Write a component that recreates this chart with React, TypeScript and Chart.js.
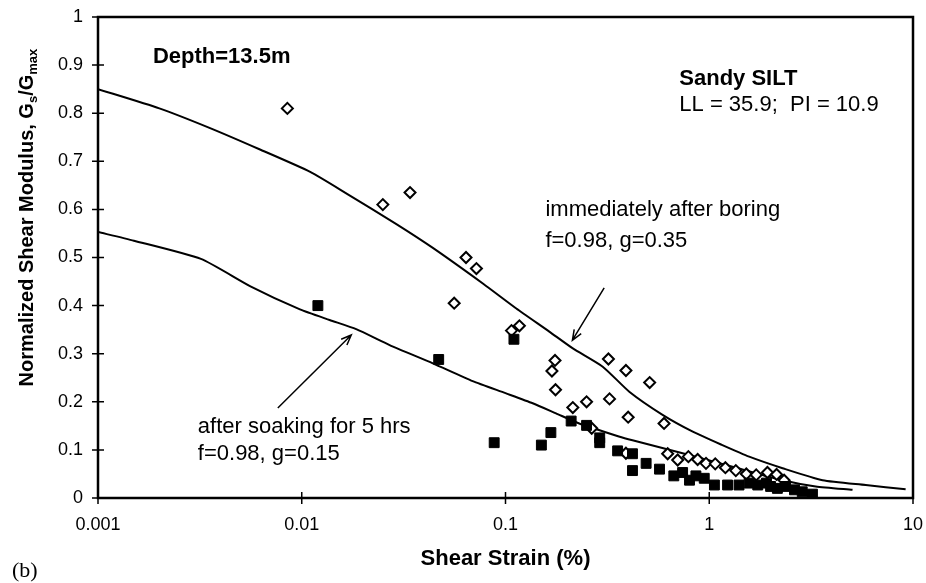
import React, { useEffect, useRef } from "react";
import { Chart, registerables } from "chart.js";

Chart.register(...registerables);

// ---- tick values and labels ----
const xTicks = [0.001, 0.01, 0.1, 1, 10];
const xTickLabels = ["0.001", "0.01", "0.1", "1", "10"];
const yTicks = [0, 0.1, 0.2, 0.3, 0.4, 0.5, 0.6, 0.7, 0.8, 0.9, 1];
const yTickLabels = ["0", "0.1", "0.2", "0.3", "0.4", "0.5", "0.6", "0.7", "0.8", "0.9", "1"];

// ---- measured data: immediately after boring (open diamonds) ----
const boringStrain = [
  0.0085, 0.025, 0.034, 0.056, 0.064, 0.072, 0.107, 0.117, 0.169, 0.175, 0.176, 0.214,
  0.25, 0.265, 0.32, 0.324, 0.39, 0.40, 0.39, 0.51, 0.60, 0.625, 0.70, 0.79, 0.877,
  0.964, 1.07, 1.2, 1.35, 1.52, 1.7, 1.93, 2.14, 2.33,
];
const boringModulus = [
  0.81, 0.61, 0.635, 0.405, 0.5, 0.477, 0.348, 0.358, 0.264, 0.286, 0.225, 0.188,
  0.2, 0.145, 0.289, 0.206, 0.265, 0.168, 0.093, 0.24, 0.155, 0.092, 0.079, 0.086, 0.08,
  0.072, 0.071, 0.063, 0.057, 0.05, 0.048, 0.053, 0.049, 0.037,
];

// ---- measured data: after soaking for 5 hrs (filled squares) ----
const soakedStrain = [
  0.012, 0.047, 0.088, 0.11, 0.15, 0.167, 0.21, 0.25, 0.29, 0.29, 0.355, 0.42, 0.42,
  0.49, 0.57, 0.67, 0.74, 0.8, 0.86, 0.945, 1.06, 1.23, 1.4, 1.57, 1.73, 1.91, 2.0,
  2.16, 2.37, 2.62, 2.86, 3.21,
];
const soakedModulus = [
  0.4, 0.288, 0.115, 0.33, 0.11, 0.136, 0.16, 0.151, 0.125, 0.115, 0.098, 0.092, 0.057,
  0.072, 0.06, 0.046, 0.053, 0.037, 0.046, 0.041, 0.027, 0.027, 0.027, 0.031, 0.027, 0.031, 0.024,
  0.02, 0.024, 0.017, 0.013, 0.008,
];

// ---- fitted curves ----
const boringFitStrain = [
  0.001, 0.002, 0.0035, 0.0062, 0.011, 0.0166, 0.029, 0.044, 0.078, 0.113, 0.164, 0.214,
  0.3, 0.405, 0.59, 0.83, 1.16, 1.57, 2.29, 3.6, 5.86, 9.2,
];
const boringFitModulus = [
  0.85, 0.81, 0.77, 0.725, 0.678, 0.633, 0.57, 0.52, 0.445, 0.394, 0.346, 0.311,
  0.273, 0.221, 0.173, 0.138, 0.11, 0.086, 0.062, 0.037, 0.027, 0.018,
];
const soakedFitStrain = [
  0.001, 0.0015, 0.0032, 0.0056, 0.0098, 0.0137, 0.0185, 0.027, 0.044, 0.069, 0.1,
  0.136, 0.177, 0.23, 0.36, 0.42, 0.74, 1.3, 2.29, 3.33, 5.05,
];
const soakedFitModulus = [
  0.553, 0.535, 0.497, 0.44, 0.392, 0.37, 0.351, 0.318, 0.28, 0.243, 0.218,
  0.197, 0.176, 0.155, 0.128, 0.12, 0.093, 0.065, 0.037, 0.024, 0.017,
];

// ---- annotations (data coordinates: strain, modulus) ----
const noteTexts = [
  "Depth=13.5m",
  "Sandy SILT",
  "LL = 35.9;  PI = 10.9",
  "immediately after boring",
  "f=0.98, g=0.35",
  "after soaking for 5 hrs",
  "f=0.98, g=0.15",
];
const noteStrain = [0.00186, 0.713, 0.713, 0.157, 0.157, 0.00309, 0.00309];
const noteModulus = [0.904, 0.859, 0.805, 0.586, 0.522, 0.135, 0.079];
const noteBold = [true, true, false, false, false, false, false];

const arrowFromStrain = [0.305, 0.00763];
const arrowFromModulus = [0.437, 0.187];
const arrowToStrain = [0.213, 0.0175];
const arrowToModulus = [0.328, 0.339];

const SANS = '"Liberation Sans", Arial, sans-serif';

const toPoints = (xs: number[], ys: number[]) => xs.map((x, i) => ({ x, y: ys[i] }));

const decorPlugin = {
  id: "decor",
  afterDraw(chart: any) {
    const { ctx, chartArea: a } = chart;
    const xs = chart.scales.x;
    const ys = chart.scales.y;
    ctx.save();
    ctx.strokeStyle = "#000";
    ctx.fillStyle = "#000";

    // frame
    ctx.lineWidth = 2.5;
    ctx.strokeRect(a.left, a.top, a.right - a.left, a.bottom - a.top);

    // crossing tick marks
    ctx.lineWidth = 1.5;
    ctx.beginPath();
    yTicks.forEach((v) => {
      const py = ys.getPixelForValue(v);
      ctx.moveTo(a.left - 6, py);
      ctx.lineTo(a.left + 6, py);
    });
    xTicks.forEach((v) => {
      const px = xs.getPixelForValue(v);
      ctx.moveTo(px, a.bottom - 6);
      ctx.lineTo(px, a.bottom + 6);
    });
    ctx.stroke();

    // arrows
    ctx.lineWidth = 1.5;
    for (let i = 0; i < arrowFromStrain.length; i++) {
      const x0 = xs.getPixelForValue(arrowFromStrain[i]);
      const y0 = ys.getPixelForValue(arrowFromModulus[i]);
      const x1 = xs.getPixelForValue(arrowToStrain[i]);
      const y1 = ys.getPixelForValue(arrowToModulus[i]);
      const ang = Math.atan2(y1 - y0, x1 - x0);
      const hl = 11;
      ctx.beginPath();
      ctx.moveTo(x0, y0);
      ctx.lineTo(x1, y1);
      ctx.moveTo(x1 - hl * Math.cos(ang - 0.38), y1 - hl * Math.sin(ang - 0.38));
      ctx.lineTo(x1, y1);
      ctx.lineTo(x1 - hl * Math.cos(ang + 0.38), y1 - hl * Math.sin(ang + 0.38));
      ctx.stroke();
    }

    // annotation texts
    ctx.textAlign = "left";
    ctx.textBaseline = "alphabetic";
    noteTexts.forEach((t, i) => {
      ctx.font = `${noteBold[i] ? "bold " : ""}22px ${SANS}`;
      ctx.fillText(t, xs.getPixelForValue(noteStrain[i]), ys.getPixelForValue(noteModulus[i]));
    });

    // x axis title
    ctx.font = `bold 22px ${SANS}`;
    ctx.textAlign = "center";
    ctx.fillText("Shear Strain (%)", (a.left + a.right) / 2, 565);

    // (b)
    ctx.font = `22px "Liberation Serif", "Times New Roman", serif`;
    ctx.textAlign = "left";
    ctx.fillText("(b)", 12, 577);

    // y axis title with subscripts
    const parts = [
      { t: "Normalized Shear Modulus, G", size: 20, dy: 0 },
      { t: "s", size: 13, dy: 4 },
      { t: "/G", size: 20, dy: 0 },
      { t: "max", size: 13, dy: 4 },
    ];
    let total = 0;
    parts.forEach((p) => {
      ctx.font = `bold ${p.size}px ${SANS}`;
      total += ctx.measureText(p.t).width;
    });
    ctx.translate(33, ys.getPixelForValue(0.583));
    ctx.rotate(-Math.PI / 2);
    let cx = -total / 2;
    parts.forEach((p) => {
      ctx.font = `bold ${p.size}px ${SANS}`;
      ctx.fillText(p.t, cx, p.dy);
      cx += ctx.measureText(p.t).width;
    });
    ctx.restore();
  },
};

const noScalePadding = (s: any) => {
  s.paddingLeft = 0;
  s.paddingRight = 0;
  s.paddingTop = 0;
  s.paddingBottom = 0;
};

export default function App() {
  const ref = useRef<HTMLCanvasElement | null>(null);

  useEffect(() => {
    if (!ref.current) return;
    const chart = new Chart(ref.current, {
      type: "scatter",
      data: {
        datasets: [
          {
            label: "after soaking (measured)",
            data: toPoints(soakedStrain, soakedModulus),
            pointStyle: "rect",
            radius: 7,
            backgroundColor: "#000",
            borderColor: "#000",
            borderWidth: 1,
            showLine: false,
            order: 0,
          },
          {
            label: "immediately after boring (measured)",
            data: toPoints(boringStrain, boringModulus),
            pointStyle: "rectRot",
            radius: 5.5,
            backgroundColor: "#fff",
            borderColor: "#000",
            borderWidth: 2,
            showLine: false,
            order: 1,
          },
          {
            label: "immediately after boring (fit)",
            data: toPoints(boringFitStrain, boringFitModulus),
            showLine: true,
            borderColor: "#000",
            borderWidth: 2,
            pointRadius: 0,
            tension: 0.2,
            order: 2,
          },
          {
            label: "after soaking (fit)",
            data: toPoints(soakedFitStrain, soakedFitModulus),
            showLine: true,
            borderColor: "#000",
            borderWidth: 2,
            pointRadius: 0,
            tension: 0.2,
            order: 2,
          },
        ],
      },
      options: {
        animation: false,
        responsive: true,
        maintainAspectRatio: false,
        layout: { padding: { left: 0, top: 17, right: 13, bottom: 0 } },
        plugins: {
          legend: { display: false },
          tooltip: { enabled: false },
        },
        scales: {
          x: {
            type: "logarithmic",
            min: 0.001,
            max: 10,
            afterBuildTicks: (s: any) => {
              s.ticks = xTicks.map((v) => ({ value: v }));
            },
            afterFit: (s: any) => {
              s.height = 85;
              noScalePadding(s);
            },
            grid: { display: false, drawTicks: false },
            border: { display: false },
            ticks: {
              autoSkip: false,
              maxRotation: 0,
              padding: 16,
              color: "#000",
              font: { family: SANS, size: 18 },
              callback: (v: any) => {
                const i = xTicks.findIndex((t) => Math.abs(t - Number(v)) < 1e-9);
                return i >= 0 ? xTickLabels[i] : "";
              },
            },
          },
          y: {
            type: "linear",
            min: 0,
            max: 1,
            afterBuildTicks: (s: any) => {
              s.ticks = yTicks.map((v) => ({ value: v }));
            },
            afterFit: (s: any) => {
              s.width = 98;
              noScalePadding(s);
            },
            grid: { display: false, drawTicks: false },
            border: { display: false },
            ticks: {
              autoSkip: false,
              padding: 15,
              color: "#000",
              font: { family: SANS, size: 18 },
              callback: (v: any) => {
                const i = yTicks.findIndex((t) => Math.abs(t - Number(v)) < 1e-9);
                return i >= 0 ? yTickLabels[i] : "";
              },
            },
          },
        },
      },
      plugins: [decorPlugin],
    });
    return () => chart.destroy();
  }, []);

  return (
    <div style={{ position: "absolute", left: 0, top: 0, width: 926, height: 583, background: "#fff" }}>
      <canvas ref={ref} />
    </div>
  );
}
